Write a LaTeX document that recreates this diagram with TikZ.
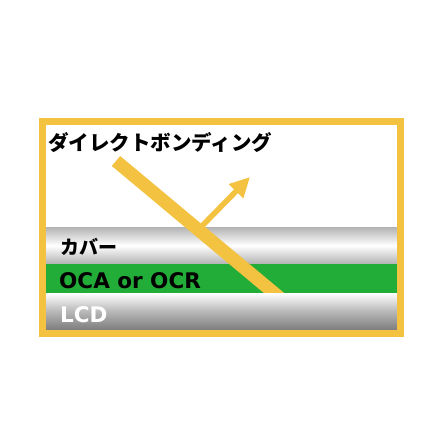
\documentclass[tikz,border=0pt]{standalone}
\usepackage{fontspec}
\newfontfamily\jp{Noto Sans CJK JP}
\newfontfamily\lat{DejaVu Sans}
\usetikzlibrary{arrows.meta}
\definecolor{rayyellow}{RGB}{243,194,65}
\definecolor{gband}{RGB}{34,172,56}
\tikzset{
  lbl/.style={anchor=west, inner sep=0pt, font=\jp\bfseries\fontsize{19}{19}\selectfont},
  latlbl/.style={anchor=west, inner sep=0pt, font=\lat\bfseries\fontsize{21.5}{21.5}\selectfont},
}
\begin{document}
\begin{tikzpicture}[x=1pt,y=-1pt]
\useasboundingbox (0,0) rectangle (448,448);
\fill[white] (0,0) rectangle (448,448);
% layers
\shade[top color=gray!60, bottom color=gray!60, middle color=white] (46,227) rectangle (397,264);
\fill[gband] (46,264) rectangle (397,293);
% rays
\coordinate (in) at (116,161);
\coordinate (out) at (280,298);
\coordinate (hit) at (202,226);
\coordinate (tip) at (250,177);
\draw[draw=rayyellow, line width=5.5pt, -{Triangle[length=20pt,width=19pt,fill=rayyellow]}] (hit) -- (tip);
\draw[draw=rayyellow, line width=13pt, line cap=butt] (in) -- (out);
% LCD layer over the ray end
\shade[top color=white, bottom color=gray, middle color=gray!55!white] (46,293) rectangle (397,329);
% frame
\draw[draw=rayyellow, line width=7pt] (42.5,121) rectangle (400.5,333);
% texts
\node[lbl, font=\jp\bfseries\fontsize{20.5}{20.5}\selectfont] (title) at (48,143) {ダイレクトボンディング};
\node[lbl] (cover) at (60,247) {カバー};
\node[latlbl] (oca) at (59,280.5) {OCA or OCR};
\node[latlbl, text=white] (lcd) at (60,314.5) {LCD};
\end{tikzpicture}
\end{document}
